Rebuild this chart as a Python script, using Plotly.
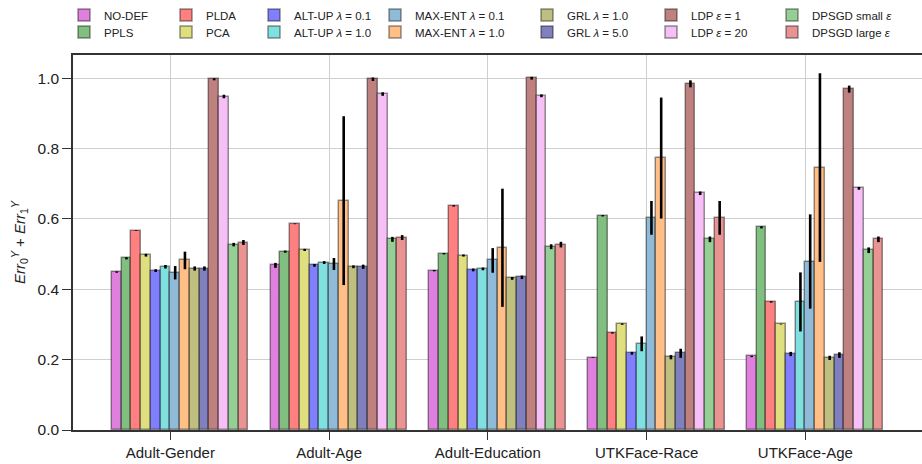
import plotly.graph_objects as go

categories = ["Adult-Gender", "Adult-Age", "Adult-Education", "UTKFace-Race", "UTKFace-Age"]

series_names = [
    "NO-DEF", "PPLS", "PLDA", "PCA",
    "ALT-UP <i>λ</i> = 0.1", "ALT-UP <i>λ</i> = 1.0",
    "MAX-ENT <i>λ</i> = 0.1", "MAX-ENT <i>λ</i> = 1.0",
    "GRL <i>λ</i> = 1.0", "GRL <i>λ</i> = 5.0",
    "LDP <i>ε</i> = 1", "LDP <i>ε</i> = 20",
    "DPSGD small <i>ε</i>", "DPSGD large <i>ε</i>",
]

# values per series across categories
no_def      = [0.449, 0.468, 0.453, 0.206, 0.209]
ppls        = [0.488, 0.507, 0.501, 0.609, 0.576]
plda        = [0.567, 0.586, 0.637, 0.276, 0.364]
pca         = [0.497, 0.512, 0.496, 0.301, 0.301]
altup_01    = [0.453, 0.468, 0.455, 0.218, 0.216]
altup_10    = [0.464, 0.476, 0.458, 0.245, 0.364]
maxent_01   = [0.447, 0.472, 0.482, 0.603, 0.479]
maxent_10   = [0.482, 0.652, 0.518, 0.773, 0.746]
grl_10      = [0.459, 0.464, 0.431, 0.207, 0.205]
grl_50      = [0.459, 0.464, 0.434, 0.218, 0.213]
ldp_1       = [0.997, 0.997, 1.000, 0.984, 0.969]
ldp_20      = [0.948, 0.955, 0.950, 0.673, 0.687]
dpsgd_small = [0.527, 0.542, 0.521, 0.542, 0.511]
dpsgd_large = [0.533, 0.547, 0.527, 0.603, 0.542]

# error bar half-lengths
err_no_def      = [0.002, 0.007, 0.002, 0.001, 0.002]
err_ppls        = [0.003, 0.003, 0.002, 0.002, 0.003]
err_plda        = [0.001, 0.001, 0.002, 0.002, 0.002]
err_pca         = [0.004, 0.003, 0.003, 0.002, 0.001]
err_altup_01    = [0.004, 0.004, 0.004, 0.004, 0.006]
err_altup_10    = [0.005, 0.004, 0.004, 0.021, 0.084]
err_maxent_01   = [0.019, 0.017, 0.035, 0.048, 0.134]
err_maxent_10   = [0.025, 0.240, 0.168, 0.172, 0.268]
err_grl_10      = [0.006, 0.004, 0.004, 0.006, 0.006]
err_grl_50      = [0.006, 0.006, 0.005, 0.013, 0.008]
err_ldp_1       = [0.003, 0.005, 0.004, 0.010, 0.010]
err_ldp_20      = [0.005, 0.005, 0.004, 0.005, 0.004]
err_dpsgd_small = [0.005, 0.007, 0.007, 0.008, 0.008]
err_dpsgd_large = [0.007, 0.007, 0.008, 0.048, 0.008]

series_values = [no_def, ppls, plda, pca, altup_01, altup_10, maxent_01, maxent_10,
                 grl_10, grl_50, ldp_1, ldp_20, dpsgd_small, dpsgd_large]
series_errors = [err_no_def, err_ppls, err_plda, err_pca, err_altup_01, err_altup_10,
                 err_maxent_01, err_maxent_10, err_grl_10, err_grl_50, err_ldp_1,
                 err_ldp_20, err_dpsgd_small, err_dpsgd_large]

colors = [
    "rgb(223,128,223)", "rgb(128,191,128)", "rgb(255,128,128)", "rgb(223,223,128)",
    "rgb(128,128,255)", "rgb(128,223,223)", "rgb(143,187,217)", "rgb(255,191,134)",
    "rgb(191,191,128)", "rgb(128,128,191)", "rgb(191,128,128)", "rgb(246,192,246)",
    "rgb(149,207,149)", "rgb(234,147,147)",
]

W = 0.0614
FONT = "Liberation Sans, Arial, sans-serif"

# legend layout: 7 columns x 2 rows (pixels)
col_px = [64, 166, 254, 375, 527, 651, 772]
row_px = [15, 32]
plot_l, plot_w, plot_b, plot_h = 73, 849, 430, 375

fig = go.Figure()
legends = {}
for i, (name, vals, errs, col) in enumerate(zip(series_names, series_values, series_errors, colors)):
    xs = [c + (i - 6) * W + W / 2 for c in range(len(categories))]
    key = "legend" if i == 0 else f"legend{i + 1}"
    fig.add_trace(go.Bar(
        x=xs, y=vals, width=W, name=name,
        marker=dict(color=col, line=dict(color="rgba(0,0,0,0.42)", width=1.5)),
        error_y=dict(type="data", array=errs, color="black", thickness=2.6, width=0),
        legend=key,
    ))
    legends[key] = dict(
        x=(col_px[i // 2] - plot_l) / plot_w,
        y=(plot_b - row_px[i % 2]) / plot_h,
        xanchor="left", yanchor="middle",
        orientation="v", bgcolor="rgba(0,0,0,0)", borderwidth=0,
        font=dict(family=FONT, size=11.5, color="#222"),
        itemwidth=30,
    )

fig.update_layout(
    width=922, height=464,
    margin=dict(l=73, r=0, t=55, b=34, autoexpand=False),
    paper_bgcolor="white", plot_bgcolor="white",
    barmode="overlay", bargap=0,
    showlegend=True,
    font=dict(family=FONT, size=15, color="#222"),
    **legends,
)
fig.update_xaxes(
    range=[-0.613, 4.735], automargin=False,
    tickmode="array", tickvals=list(range(len(categories))), ticktext=categories,
    showgrid=True, gridcolor="#cfcfcf", gridwidth=1,
    showline=True, linecolor="#333", linewidth=1.6, mirror=True,
    ticks="outside", ticklen=8, tickwidth=1.2, tickcolor="#333",
    tickfont=dict(size=15, family=FONT), zeroline=False,
)
fig.update_yaxes(
    range=[0, 1.066], automargin=False,
    tickmode="array", tickvals=[0, 0.2, 0.4, 0.6, 0.8, 1.0],
    ticktext=["0.0", "0.2", "0.4", "0.6", "0.8", "1.0"],
    showgrid=True, gridcolor="#cfcfcf", gridwidth=1,
    showline=True, linecolor="#333", linewidth=1.6, mirror=True,
    ticks="outside", ticklen=9, tickwidth=1.2, tickcolor="#333",
    tickfont=dict(size=15.5, family=FONT), zeroline=False,
    title=dict(text="<i>Err</i><sub>0</sub><sup><i>Y</i></sup> + <i>Err</i><sub>1</sub><sup><i>Y</i></sup>",
               font=dict(size=15, family=FONT), standoff=8),
)

fig.write_html("out.html", config={"displayModeBar": False},
               post_script="document.body.style.margin='0px';document.body.style.overflow='hidden';")
